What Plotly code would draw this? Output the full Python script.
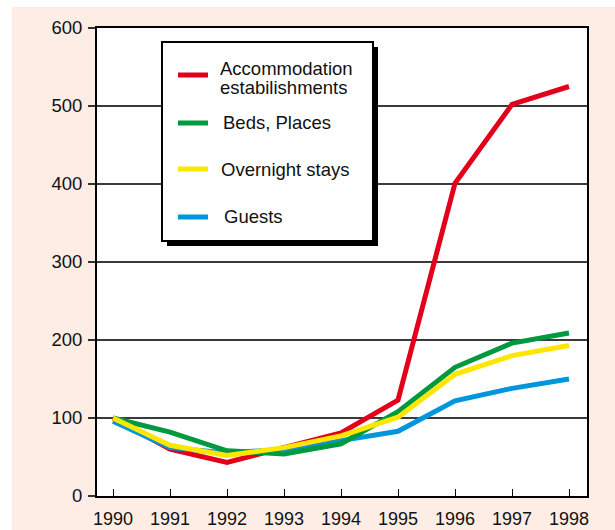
import plotly.graph_objects as go

# ---- data: index values, 1990 = 100 ----
years = [1990, 1991, 1992, 1993, 1994, 1995, 1996, 1997, 1998]
accommodation = [100, 60, 43, 62, 81, 123, 401, 502, 525]
beds_places = [100, 82, 58, 54, 67, 108, 165, 196, 209]
overnight_stays = [100, 65, 52, 62, 77, 101, 156, 180, 193]
guests = [96, 62, 55, 60, 71, 83, 122, 138, 150]

y_ticks = [0, 100, 200, 300, 400, 500, 600]
BASE_INDEX = 100

series = [
    ("Accommodation", "estabilishments", accommodation, "#E2001A"),
    ("Beds, Places", None, beds_places, "#00993F"),
    ("Overnight stays", None, overnight_stays, "#FFE600"),
    ("Guests", None, guests, "#0096DB"),
]
draw_order = [0, 3, 1, 2]

W, H = 615, 530
L, R, T, B = 97, 28, 28, 34
PW, PH = W - L - R, H - T - B
FONT = "Liberation Sans, Arial, Helvetica, sans-serif"
TEXT = "#111111"


def px(x):
    return (x - L) / PW


def py(y):
    return 1 - (y - T) / PH


fig = go.Figure()
for i in draw_order:
    name, name2, vals, col = series[i]
    fig.add_trace(go.Scatter(
        x=years, y=vals, mode="lines",
        name=name if name2 is None else name + " " + name2,
        line=dict(color=col, width=5, shape="linear"),
        showlegend=False, hoverinfo="skip",
    ))

x_range = [years[0] - 16 / 57, years[-1] + 18 / 57]

shapes = [
    # white margin strips around the tinted panel
    dict(type="rect", xref="paper", yref="paper", x0=px(-5), x1=px(W + 5),
         y0=py(7), y1=py(-5), fillcolor="white", line_width=0, layer="below"),
    dict(type="rect", xref="paper", yref="paper", x0=px(-5), x1=px(12),
         y0=py(H + 5), y1=py(-5), fillcolor="white", line_width=0, layer="below"),
    # base index line
    dict(type="line", xref="x domain", yref="y", x0=0, x1=1,
         y0=BASE_INDEX, y1=BASE_INDEX, line=dict(color="black", width=2),
         layer="below"),
]

# legend panel with drop shadow
bx0, bx1, by0, by1 = 162, 373, 42, 241
shapes.append(dict(type="rect", xref="paper", yref="paper",
                   x0=px(bx0 + 5), x1=px(bx1 + 5), y0=py(by1 + 5), y1=py(by0 + 5),
                   fillcolor="black", line_width=0, layer="above"))
shapes.append(dict(type="rect", xref="paper", yref="paper",
                   x0=px(bx0), x1=px(bx1), y0=py(by1), y1=py(by0),
                   fillcolor="white", line=dict(color="black", width=2), layer="above"))

annotations = []
swatch_y = [75, 123, 169, 217]
label_y = [(67, 86), (123,), (169,), (216,)]
label_x = [221, 223, 221, 224]
for (name, name2, vals, col), sy, ly, lx in zip(series, swatch_y, label_y, label_x):
    shapes.append(dict(type="line", xref="paper", yref="paper",
                       x0=px(178), x1=px(208), y0=py(sy), y1=py(sy),
                       line=dict(color=col, width=5), layer="above"))
    texts = [name] if name2 is None else [name, name2]
    for t, yy in zip(texts, ly):
        ann = dict(
            xref="paper", yref="paper", x=px(lx - 2), y=py(yy),
            xanchor="left", yanchor="middle", text=t, showarrow=False,
            font=dict(family=FONT, size=18.5, color=TEXT),
        )
        if name2 is not None:
            # two stacked lines set closer than the default line spacing
            ann.update(height=18, borderpad=0, y=py(yy + 1))
        annotations.append(ann)

fig.update_layout(
    width=W, height=H,
    margin=dict(l=L, r=R, t=T, b=B, pad=0, autoexpand=False),
    paper_bgcolor="#FDEDE5",
    plot_bgcolor="white",
    showlegend=False,
    xaxis=dict(
        range=x_range, tickvals=years, ticktext=[str(y) for y in years],
        ticks="inside", ticklen=7, tickwidth=1, tickcolor="black",
        showgrid=False, zeroline=False, automargin=False,
        showline=True, mirror=True, linecolor="black", linewidth=2,
        tickfont=dict(family=FONT, size=18, color=TEXT),
        ticklabelstandoff=5,
    ),
    xaxis2=dict(
        range=x_range, overlaying="x", anchor="y", side="bottom",
        tickvals=[years[0], years[-1]], ticks="outside", ticklen=7,
        tickwidth=1, tickcolor="black", showticklabels=False,
        showgrid=True, gridcolor="black", gridwidth=1, automargin=False,
        zeroline=False, showline=False,
    ),
    yaxis=dict(
        range=[0, 600], tickvals=y_ticks, ticks="outside", ticklen=7,
        tickwidth=1.5, tickcolor="#333", showgrid=True, gridcolor="#3a3a3a",
        gridwidth=1.5, zeroline=False, automargin=False,
        showline=True, mirror=True, linecolor="black", linewidth=2,
        tickfont=dict(family=FONT, size=18.5, color=TEXT),
        ticklabelstandoff=2,
    ),
    shapes=shapes,
    annotations=annotations,
)

fig.write_html("out.html")
